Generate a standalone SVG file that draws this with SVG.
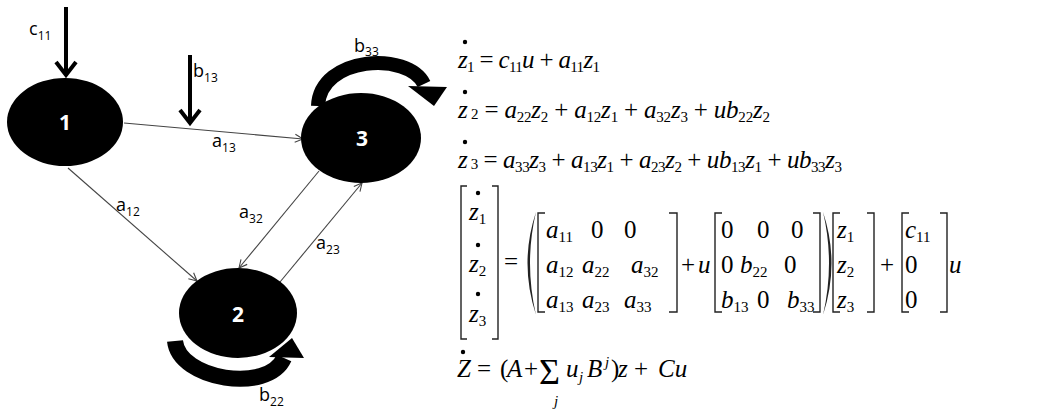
<svg xmlns="http://www.w3.org/2000/svg" width="1048" height="413" viewBox="0 0 1048 413">
<style>
.node{fill:#000}
.nl{font-family:"Open Sans","DejaVu Sans",sans-serif;font-weight:bold;font-size:21px;fill:#fff;text-anchor:middle}
.lbl{font-family:"Open Sans","DejaVu Sans",sans-serif;font-size:18px;fill:#000}
.ls{font-size:12px}
.thin{stroke:#444;stroke-width:1.1;fill:none}
.thick{stroke:#000;stroke-width:4;fill:none}
.band{fill:none;stroke:#000}
.eq{font-family:"Liberation Serif","Times New Roman",serif;font-size:25px;fill:#000}
.i{font-style:italic}
.s{font-size:15px;font-style:normal}
.br{fill:none;stroke:#222;stroke-width:1.4}
</style>
<defs>
<marker id="open" markerUnits="userSpaceOnUse" markerWidth="12" markerHeight="12" refX="9" refY="5" orient="auto">
<path d="M1,1 L9,5 L1,9" fill="none" stroke="#444" stroke-width="1.1"/>
</marker>
</defs>

<g id="connectors">
<line class="thin" x1="124" y1="123" x2="303" y2="139" marker-end="url(#open)"/>
<line class="thin" x1="68" y1="168" x2="197" y2="281" marker-end="url(#open)"/>
<line class="thin" x1="319" y1="171" x2="239" y2="268" marker-end="url(#open)"/>
<line class="thin" x1="280" y1="282" x2="362" y2="183" marker-end="url(#open)"/>
<line class="thick" x1="66" y1="7" x2="66" y2="75"/>
<path class="thick" d="M56,62 L66,75 L76,62"/>
<line class="thick" x1="190" y1="55" x2="190" y2="123"/>
<path class="thick" d="M180,110 L190,123 L200,110"/>
<path class="band" stroke-width="14" d="M318,106 C320,56 408,51 424,84"/>
<polygon points="408,86 447,87 434,106" fill="#000"/>
<path class="band" stroke-width="16" d="M175,341 C179,380 268,394 284,358"/>
<polygon points="269,357 304,358 292,338" fill="#000"/>
</g>

<g id="node1"><ellipse class="node" cx="65" cy="122" rx="58" ry="44"/><text class="nl" x="65" y="130">1</text></g>
<g id="node2"><ellipse class="node" cx="238" cy="313" rx="59" ry="45"/><text class="nl" x="238" y="322">2</text></g>
<g id="node3"><ellipse class="node" cx="361" cy="138" rx="60" ry="45"/><text class="nl" x="362" y="146">3</text></g>

<g id="labels">
<text class="lbl" x="29" y="35">c<tspan class="ls" dy="5">11</tspan></text>
<text class="lbl" x="193" y="77">b<tspan class="ls" dy="5">13</tspan></text>
<text class="lbl" x="354" y="52">b<tspan class="ls" dy="4">33</tspan></text>
<text class="lbl" x="212" y="147">a<tspan class="ls" dy="5">13</tspan></text>
<text class="lbl" x="116" y="211">a<tspan class="ls" dy="5">12</tspan></text>
<text class="lbl" x="239" y="218">a<tspan class="ls" dy="5">32</tspan></text>
<text class="lbl" x="316" y="249">a<tspan class="ls" dy="5">23</tspan></text>
<text class="lbl" x="259" y="401">b<tspan class="ls" dy="5">22</tspan></text>
</g>

<g id="equations">
<circle cx="465" cy="42" r="2.2"/>
<circle cx="465" cy="92" r="2.2"/>
<circle cx="465" cy="142" r="2.2"/>
<text class="eq" x="458" y="68" textLength="142"><tspan class="i">z</tspan><tspan class="s" dy="4">1</tspan><tspan dy="-4"> = </tspan><tspan class="i">c</tspan><tspan class="s" dy="4">11</tspan><tspan class="i" dy="-4">u</tspan> + <tspan class="i">a</tspan><tspan class="s" dy="4">11</tspan><tspan class="i" dy="-4">z</tspan><tspan class="s" dy="4">1</tspan></text>
<text class="eq" x="458" y="118" textLength="312"><tspan class="i">z</tspan><tspan class="s" dy="1"> 2</tspan><tspan dy="-1"> = </tspan><tspan class="i">a</tspan><tspan class="s" dy="4">22</tspan><tspan class="i" dy="-4">z</tspan><tspan class="s" dy="4">2</tspan><tspan dy="-4"> + </tspan><tspan class="i">a</tspan><tspan class="s" dy="4">12</tspan><tspan class="i" dy="-4">z</tspan><tspan class="s" dy="4">1</tspan><tspan dy="-4"> + </tspan><tspan class="i">a</tspan><tspan class="s" dy="4">32</tspan><tspan class="i" dy="-4">z</tspan><tspan class="s" dy="4">3</tspan><tspan dy="-4"> + </tspan><tspan class="i">ub</tspan><tspan class="s" dy="4">22</tspan><tspan class="i" dy="-4">z</tspan><tspan class="s" dy="4">2</tspan></text>
<text class="eq" x="458" y="168" textLength="384"><tspan class="i">z</tspan><tspan class="s" dy="1"> 3</tspan><tspan dy="-1"> = </tspan><tspan class="i">a</tspan><tspan class="s" dy="4">33</tspan><tspan class="i" dy="-4">z</tspan><tspan class="s" dy="4">3</tspan><tspan dy="-4"> + </tspan><tspan class="i">a</tspan><tspan class="s" dy="4">13</tspan><tspan class="i" dy="-4">z</tspan><tspan class="s" dy="4">1</tspan><tspan dy="-4"> + </tspan><tspan class="i">a</tspan><tspan class="s" dy="4">23</tspan><tspan class="i" dy="-4">z</tspan><tspan class="s" dy="4">2</tspan><tspan dy="-4"> + </tspan><tspan class="i">ub</tspan><tspan class="s" dy="4">13</tspan><tspan class="i" dy="-4">z</tspan><tspan class="s" dy="4">1</tspan><tspan dy="-4"> + </tspan><tspan class="i">ub</tspan><tspan class="s" dy="4">33</tspan><tspan class="i" dy="-4">z</tspan><tspan class="s" dy="4">3</tspan></text>

<path class="br" d="M467,186 H461 V339 H467 M492,186 H498 V339 H492"/>
<circle cx="478" cy="193" r="2.2"/>
<circle cx="478" cy="245" r="2.2"/>
<circle cx="478" cy="294" r="2.2"/>
<text class="eq" x="469" y="220"><tspan class="i">z</tspan><tspan class="s" dy="4">1</tspan></text>
<text class="eq" x="469" y="272"><tspan class="i">z</tspan><tspan class="s" dy="4">2</tspan></text>
<text class="eq" x="469" y="322"><tspan class="i">z</tspan><tspan class="s" dy="4">3</tspan></text>
<text class="eq" x="504" y="270">=</text>
<path d="M536,212 Q519,263 536,315 Q524,263 536,212 Z" fill="#222"/>
<path class="br" d="M545,213 H538 V312 H545 M669,213 H677 V312 H669"/>
<text class="eq" x="546" y="238"><tspan class="i">a</tspan><tspan class="s" dy="4">11</tspan></text>
<text class="eq" x="591" y="238">0</text>
<text class="eq" x="624" y="238">0</text>
<text class="eq" x="546" y="273"><tspan class="i">a</tspan><tspan class="s" dy="4">12</tspan></text>
<text class="eq" x="582" y="273"><tspan class="i">a</tspan><tspan class="s" dy="4">22</tspan></text>
<text class="eq" x="631" y="273"><tspan class="i">a</tspan><tspan class="s" dy="4">32</tspan></text>
<text class="eq" x="546" y="308"><tspan class="i">a</tspan><tspan class="s" dy="4">13</tspan></text>
<text class="eq" x="582" y="308"><tspan class="i">a</tspan><tspan class="s" dy="4">23</tspan></text>
<text class="eq" x="624" y="308"><tspan class="i">a</tspan><tspan class="s" dy="4">33</tspan></text>
<text class="eq" x="681" y="273">+<tspan class="i" x="698">u</tspan></text>
<path class="br" d="M722,213 H715 V312 H722 M813,213 H820 V312 H813"/>
<text class="eq" x="721" y="238">0</text>
<text class="eq" x="757" y="238">0</text>
<text class="eq" x="791" y="238">0</text>
<text class="eq" x="721" y="273">0</text>
<text class="eq" x="740" y="273"><tspan class="i">b</tspan><tspan class="s" dy="4">22</tspan></text>
<text class="eq" x="784" y="273">0</text>
<text class="eq" x="721" y="308"><tspan class="i">b</tspan><tspan class="s" dy="4">13</tspan></text>
<text class="eq" x="757" y="308">0</text>
<text class="eq" x="787" y="308"><tspan class="i">b</tspan><tspan class="s" dy="4">33</tspan></text>
<path d="M823,212 Q840,263 823,315 Q835,263 823,212 Z" fill="#222"/>
<path class="br" d="M840,213 H833 V312 H840 M867,213 H874 V312 H867"/>
<text class="eq" x="837" y="238"><tspan class="i">z</tspan><tspan class="s" dy="4">1</tspan></text>
<text class="eq" x="837" y="273"><tspan class="i">z</tspan><tspan class="s" dy="4">2</tspan></text>
<text class="eq" x="837" y="308"><tspan class="i">z</tspan><tspan class="s" dy="4">3</tspan></text>
<text class="eq" x="880" y="273">+</text>
<path class="br" d="M909,213 H902 V312 H909 M940,213 H947 V312 H940"/>
<text class="eq" x="905" y="238"><tspan class="i">c</tspan><tspan class="s" dy="4">11</tspan></text>
<text class="eq" x="905" y="273">0</text>
<text class="eq" x="905" y="308">0</text>
<text class="eq i" x="949" y="273">u</text>

<circle cx="463" cy="352" r="2.2"/>
<text class="eq i" x="457" y="377">Z</text>
<text class="eq" x="477" y="377">=</text>
<text class="eq" x="500" y="377">(</text>
<text class="eq i" x="507" y="377">A</text>
<text class="eq" x="524" y="377">+</text>
<text class="eq" x="539" y="384" style="font-size:36px">Σ</text>
<text class="eq i" x="554" y="406" style="font-size:15px">j</text>
<text class="eq i" x="566" y="377">u</text>
<text class="eq i" x="579" y="382" style="font-size:15px">j</text>
<text class="eq i" x="587" y="377">B</text>
<text class="eq i" x="605" y="367" style="font-size:15px">j</text>
<text class="eq" x="611" y="377">)</text>
<text class="eq i" x="618" y="377">z</text>
<text class="eq" x="634" y="377">+</text>
<text class="eq i" x="658" y="377">Cu</text>
</g>
</svg>
